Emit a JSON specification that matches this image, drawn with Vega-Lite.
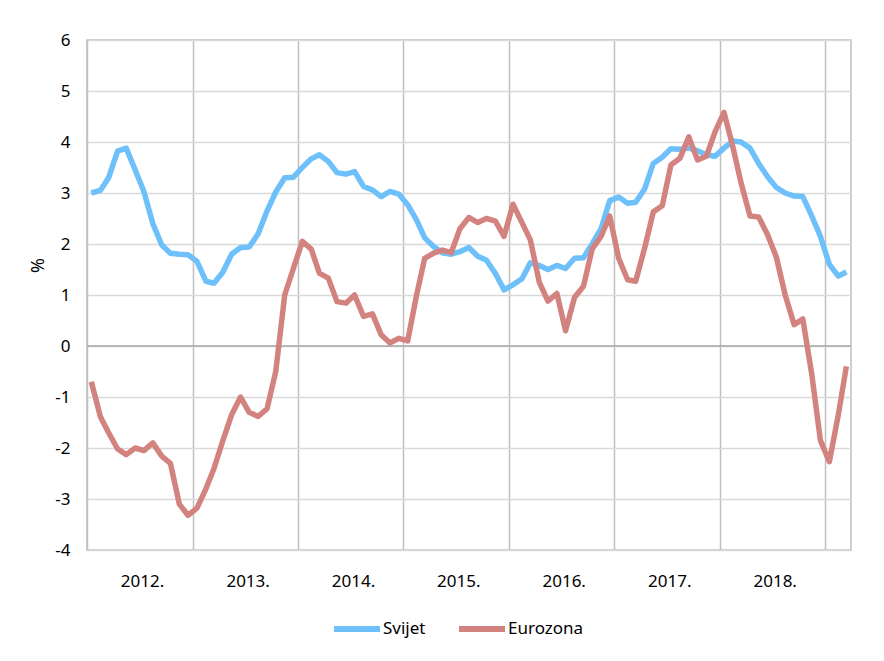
{
  "$schema": "https://vega.github.io/schema/vega-lite/v6.json",
  "width": 764,
  "height": 510,
  "autosize": "none",
  "padding": {"left": 87, "top": 40, "right": 33, "bottom": 111},
  "background": "white",
  "config": {
    "font": "Noto Sans",
    "view": {"stroke": "#BFBFBF", "strokeWidth": 1.5},
    "axisY": {"values": [-4, -3, -2, -1, 0, 1, 2, 3, 4, 5, 6], "labelExpr": "'' + datum.value", "grid": true, "gridColor": "#D9D9D9", "gridWidth": 1.5, "ticks": false, "domain": false, "labelPadding": 17, "labelFontSize": 17, "labelColor": "#000000", "titleFontSize": 18, "titleFontWeight": "normal", "titleColor": "#000000", "titleX": -40, "titleY": 225}
  },
  "layer": [
    {
      "data": {"values": [{"z": 0}]},
      "mark": {"type": "rule", "color": "#A6A6A6", "strokeWidth": 1.5},
      "encoding": {
        "y": {"field": "z", "type": "quantitative", "scale": {"domain": [-4, 6]}, "title": "%"}
      }
    },
    {
      "data": {
        "values": [
          {"d": "2012-01-16", "Svijet": 3.0, "Eurozona": -0.7},
          {"d": "2012-02-16", "Svijet": 3.05, "Eurozona": -1.38},
          {"d": "2012-03-16", "Svijet": 3.3, "Eurozona": -1.7},
          {"d": "2012-04-16", "Svijet": 3.82, "Eurozona": -2.02},
          {"d": "2012-05-16", "Svijet": 3.88, "Eurozona": -2.13},
          {"d": "2012-06-16", "Svijet": 3.45, "Eurozona": -2.0},
          {"d": "2012-07-16", "Svijet": 3.03, "Eurozona": -2.05},
          {"d": "2012-08-16", "Svijet": 2.4, "Eurozona": -1.9},
          {"d": "2012-09-16", "Svijet": 1.98, "Eurozona": -2.16},
          {"d": "2012-10-16", "Svijet": 1.82, "Eurozona": -2.3},
          {"d": "2012-11-16", "Svijet": 1.8, "Eurozona": -3.1},
          {"d": "2012-12-16", "Svijet": 1.79, "Eurozona": -3.32},
          {"d": "2013-01-16", "Svijet": 1.66, "Eurozona": -3.18},
          {"d": "2013-02-16", "Svijet": 1.27, "Eurozona": -2.8},
          {"d": "2013-03-16", "Svijet": 1.23, "Eurozona": -2.4},
          {"d": "2013-04-16", "Svijet": 1.45, "Eurozona": -1.85},
          {"d": "2013-05-16", "Svijet": 1.8, "Eurozona": -1.35},
          {"d": "2013-06-16", "Svijet": 1.93, "Eurozona": -1.0},
          {"d": "2013-07-16", "Svijet": 1.94, "Eurozona": -1.3},
          {"d": "2013-08-16", "Svijet": 2.2, "Eurozona": -1.38},
          {"d": "2013-09-16", "Svijet": 2.65, "Eurozona": -1.23},
          {"d": "2013-10-16", "Svijet": 3.02, "Eurozona": -0.5},
          {"d": "2013-11-16", "Svijet": 3.3, "Eurozona": 1.0},
          {"d": "2013-12-16", "Svijet": 3.31, "Eurozona": 1.52},
          {"d": "2014-01-16", "Svijet": 3.5, "Eurozona": 2.05},
          {"d": "2014-02-16", "Svijet": 3.67, "Eurozona": 1.9},
          {"d": "2014-03-16", "Svijet": 3.75, "Eurozona": 1.43},
          {"d": "2014-04-16", "Svijet": 3.62, "Eurozona": 1.33},
          {"d": "2014-05-16", "Svijet": 3.4, "Eurozona": 0.87},
          {"d": "2014-06-16", "Svijet": 3.37, "Eurozona": 0.84},
          {"d": "2014-07-16", "Svijet": 3.42, "Eurozona": 1.0},
          {"d": "2014-08-16", "Svijet": 3.13, "Eurozona": 0.58},
          {"d": "2014-09-16", "Svijet": 3.06, "Eurozona": 0.63},
          {"d": "2014-10-16", "Svijet": 2.93, "Eurozona": 0.22},
          {"d": "2014-11-16", "Svijet": 3.03, "Eurozona": 0.06},
          {"d": "2014-12-16", "Svijet": 2.98, "Eurozona": 0.15},
          {"d": "2015-01-16", "Svijet": 2.77, "Eurozona": 0.1},
          {"d": "2015-02-16", "Svijet": 2.47, "Eurozona": 1.0},
          {"d": "2015-03-16", "Svijet": 2.12, "Eurozona": 1.72},
          {"d": "2015-04-16", "Svijet": 1.95, "Eurozona": 1.82},
          {"d": "2015-05-16", "Svijet": 1.83, "Eurozona": 1.88},
          {"d": "2015-06-16", "Svijet": 1.8, "Eurozona": 1.83},
          {"d": "2015-07-16", "Svijet": 1.85, "Eurozona": 2.3},
          {"d": "2015-08-16", "Svijet": 1.93, "Eurozona": 2.52},
          {"d": "2015-09-16", "Svijet": 1.76, "Eurozona": 2.42},
          {"d": "2015-10-16", "Svijet": 1.68, "Eurozona": 2.5},
          {"d": "2015-11-16", "Svijet": 1.42, "Eurozona": 2.45},
          {"d": "2015-12-16", "Svijet": 1.1, "Eurozona": 2.15},
          {"d": "2016-01-16", "Svijet": 1.2, "Eurozona": 2.78},
          {"d": "2016-02-16", "Svijet": 1.32, "Eurozona": 2.42},
          {"d": "2016-03-16", "Svijet": 1.63, "Eurozona": 2.08},
          {"d": "2016-04-16", "Svijet": 1.58, "Eurozona": 1.25},
          {"d": "2016-05-16", "Svijet": 1.5, "Eurozona": 0.88},
          {"d": "2016-06-16", "Svijet": 1.58, "Eurozona": 1.03},
          {"d": "2016-07-16", "Svijet": 1.52, "Eurozona": 0.3},
          {"d": "2016-08-16", "Svijet": 1.72, "Eurozona": 0.95},
          {"d": "2016-09-16", "Svijet": 1.73, "Eurozona": 1.17},
          {"d": "2016-10-16", "Svijet": 2.0, "Eurozona": 1.9},
          {"d": "2016-11-16", "Svijet": 2.3, "Eurozona": 2.15},
          {"d": "2016-12-16", "Svijet": 2.85, "Eurozona": 2.55},
          {"d": "2017-01-16", "Svijet": 2.92, "Eurozona": 1.72},
          {"d": "2017-02-16", "Svijet": 2.8, "Eurozona": 1.3},
          {"d": "2017-03-16", "Svijet": 2.82, "Eurozona": 1.27},
          {"d": "2017-04-16", "Svijet": 3.08, "Eurozona": 1.92},
          {"d": "2017-05-16", "Svijet": 3.58, "Eurozona": 2.63},
          {"d": "2017-06-16", "Svijet": 3.7, "Eurozona": 2.75},
          {"d": "2017-07-16", "Svijet": 3.87, "Eurozona": 3.55},
          {"d": "2017-08-16", "Svijet": 3.86, "Eurozona": 3.68},
          {"d": "2017-09-16", "Svijet": 3.88, "Eurozona": 4.1},
          {"d": "2017-10-16", "Svijet": 3.83, "Eurozona": 3.65},
          {"d": "2017-11-16", "Svijet": 3.75, "Eurozona": 3.72},
          {"d": "2017-12-16", "Svijet": 3.72, "Eurozona": 4.2},
          {"d": "2018-01-16", "Svijet": 3.88, "Eurozona": 4.58},
          {"d": "2018-02-16", "Svijet": 4.02, "Eurozona": 3.9},
          {"d": "2018-03-16", "Svijet": 4.0, "Eurozona": 3.2},
          {"d": "2018-04-16", "Svijet": 3.88, "Eurozona": 2.55},
          {"d": "2018-05-16", "Svijet": 3.58, "Eurozona": 2.53},
          {"d": "2018-06-16", "Svijet": 3.32, "Eurozona": 2.18},
          {"d": "2018-07-16", "Svijet": 3.11, "Eurozona": 1.75},
          {"d": "2018-08-16", "Svijet": 3.0, "Eurozona": 1.0},
          {"d": "2018-09-16", "Svijet": 2.94, "Eurozona": 0.42},
          {"d": "2018-10-16", "Svijet": 2.93, "Eurozona": 0.53},
          {"d": "2018-11-16", "Svijet": 2.55, "Eurozona": -0.55},
          {"d": "2018-12-16", "Svijet": 2.15, "Eurozona": -1.85},
          {"d": "2019-01-16", "Svijet": 1.6, "Eurozona": -2.27},
          {"d": "2019-02-16", "Svijet": 1.37, "Eurozona": -1.35},
          {"d": "2019-03-16", "Svijet": 1.45, "Eurozona": -0.4}
        ]
      },
      "transform": [{"fold": ["Svijet", "Eurozona"], "as": ["serija", "vrijednost"]}],
      "mark": {"type": "line", "strokeWidth": 5.5, "strokeJoin": "round"},
      "encoding": {
        "x": {
          "field": "d",
          "type": "temporal",
          "scale": {"type": "utc", "domain": [{"year": 2012, "month": 1, "date": 1, "utc": true}, {"year": 2019, "month": 4, "date": 1, "utc": true}]},
          "axis": {
            "values": [
              {"year": 2012, "month": 1, "date": 1, "utc": true},
              {"year": 2013, "month": 1, "date": 1, "utc": true},
              {"year": 2014, "month": 1, "date": 1, "utc": true},
              {"year": 2015, "month": 1, "date": 1, "utc": true},
              {"year": 2016, "month": 1, "date": 1, "utc": true},
              {"year": 2017, "month": 1, "date": 1, "utc": true},
              {"year": 2018, "month": 1, "date": 1, "utc": true},
              {"year": 2019, "month": 1, "date": 1, "utc": true}
            ],
            "labelExpr": "utcyear(datum.value) >= 2019 ? '' : utcFormat(datum.value, '%Y') + '.'",
            "grid": true,
            "gridColor": "#BFBFBF",
            "gridWidth": 1.5,
            "ticks": false,
            "domain": false,
            "labelOffset": 55,
            "labelPadding": 23,
            "labelFontSize": 17,
            "labelColor": "#000000",
            "labelFlush": false,
            "labelOverlap": false,
            "labelBound": false,
            "title": null
          }
        },
        "y": {"field": "vrijednost", "type": "quantitative", "scale": {"domain": [-4, 6]}, "title": "%"},
        "color": {
          "field": "serija",
          "type": "nominal",
          "scale": {"domain": ["Svijet", "Eurozona"], "range": ["#6EC0FA", "#D3837F"]},
          "legend": {
            "orient": "none",
            "legendX": 244,
            "legendY": 563,
            "direction": "horizontal",
            "title": null,
            "symbolType": "stroke",
            "symbolSize": 2116,
            "symbolStrokeWidth": 6,
            "labelFontSize": 17,
            "labelColor": "#000000",
            "labelOffset": 0,
            "columnPadding": 21
          }
        }
      }
    }
  ]
}
